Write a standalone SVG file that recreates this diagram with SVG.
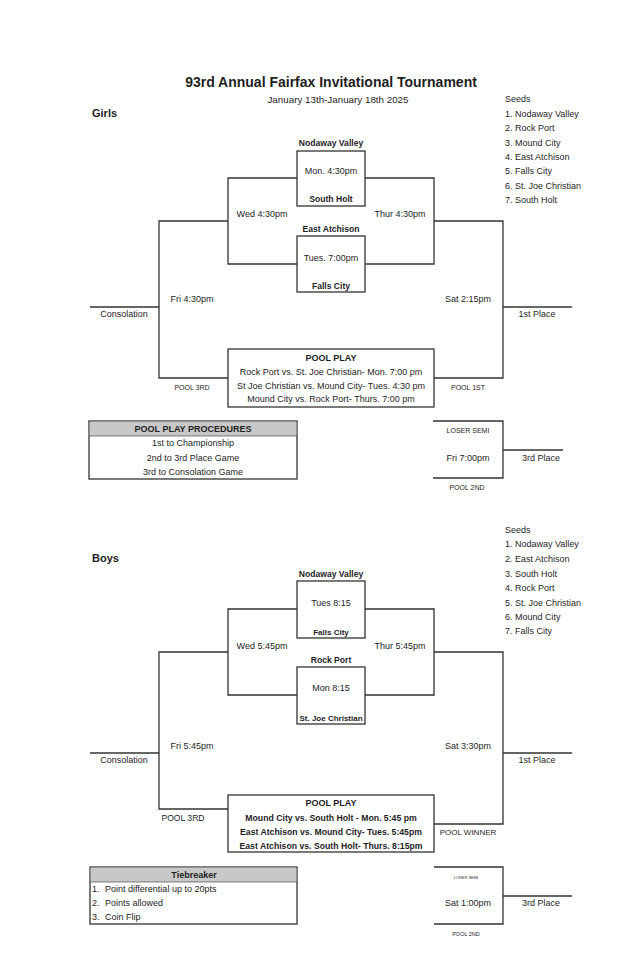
<svg xmlns="http://www.w3.org/2000/svg" width="644" height="960" viewBox="0 0 644 960">
<style>
text{font-family:"Liberation Sans",Arial,sans-serif;fill:#1e1e1e;dominant-baseline:central;font-size:9px}
.c{text-anchor:middle}
.b{font-weight:bold}
.title{font-size:14px;font-weight:bold}
.sec{font-size:11px;font-weight:bold}
.team{font-size:8.6px;font-weight:bold}
.sm{font-size:7px}
.ln{fill:none;stroke:#333;stroke-width:1.3}
.box{fill:#fff;stroke:#333;stroke-width:1.3}
.hdr{fill:#c8c8c8;stroke:none}
</style>
<rect width="644" height="960" fill="#fff"/>

<g id="header">
<text class="c title" x="331" y="82">93rd Annual Fairfax Invitational Tournament</text>
<text class="c" x="338" y="99" style="font-size:9.8px">January 13th-January 18th 2025</text>
</g>

<!-- GIRLS -->
<g id="girls-label"><text class="sec" x="92" y="113">Girls</text></g>
<g id="girls-seeds">
<text x="505" y="99">Seeds</text>
<text x="505" y="114">1. Nodaway Valley</text>
<text x="505" y="128">2. Rock Port</text>
<text x="505" y="143">3. Mound City</text>
<text x="505" y="157">4. East Atchison</text>
<text x="505" y="171">5. Falls City</text>
<text x="505" y="186">6. St. Joe Christian</text>
<text x="505" y="200">7. South Holt</text>
</g>

<g id="girls-connectors">
<path class="ln" d="M297,178 H228 V264 H297"/>
<path class="ln" d="M365,178 H434 V264 H365"/>
<path class="ln" d="M228,221 H159 V378 H228"/>
<path class="ln" d="M434,221 H503 V378 H434"/>
<path class="ln" d="M90,307 H159"/>
<path class="ln" d="M503,307 H572"/>
<path class="ln" d="M433,421 H503 V478 H433"/>
<path class="ln" d="M503,450 H563"/>
</g>

<g id="girls-game1">
<rect class="box" x="297" y="151" width="68" height="55"/>
<text class="c team" x="331" y="143">Nodaway Valley</text>
<text class="c" x="331" y="171">Mon. 4:30pm</text>
<text class="c team" x="331" y="199">South Holt</text>
</g>
<g id="girls-game2">
<rect class="box" x="297" y="236" width="68" height="56"/>
<text class="c team" x="331" y="229">East Atchison</text>
<text class="c" x="331" y="258">Tues. 7:00pm</text>
<text class="c team" x="331" y="286">Falls City</text>
</g>
<g id="girls-wed"><text class="c" x="262" y="214">Wed 4:30pm</text></g>
<g id="girls-thur"><text class="c" x="400" y="214">Thur 4:30pm</text></g>
<g id="girls-fri"><text class="c" x="192" y="299">Fri 4:30pm</text></g>
<g id="girls-sat"><text class="c" x="468" y="299">Sat 2:15pm</text></g>
<g id="girls-consolation"><text class="c" x="124" y="314">Consolation</text></g>
<g id="girls-1st"><text class="c" x="537" y="314">1st Place</text></g>
<g id="girls-pool3"><text class="c sm" x="192" y="387">POOL 3RD</text></g>
<g id="girls-pool1"><text class="c sm" x="468" y="387">POOL 1ST</text></g>
<g id="girls-pool">
<rect class="box" x="228" y="349" width="206" height="58"/>
<text class="c b" x="331" y="358">POOL PLAY</text>
<text class="c" x="331" y="372">Rock Port vs. St. Joe Christian- Mon. 7:00 pm</text>
<text class="c" x="331" y="386">St Joe Christian vs. Mound City- Tues. 4:30 pm</text>
<text class="c" x="331" y="399">Mound City vs. Rock Port- Thurs. 7:00 pm</text>
</g>
<g id="girls-procedures">
<rect class="box" x="89" y="421" width="208" height="58"/>
<rect class="hdr" x="89.7" y="421.7" width="206.6" height="14.3"/>
<line class="ln" x1="89" y1="436" x2="297" y2="436" style="stroke-width:0.6"/>
<text class="c b" x="193" y="429">POOL PLAY PROCEDURES</text>
<text class="c" x="193" y="443">1st to Championship</text>
<text class="c" x="193" y="458">2nd to 3rd Place Game</text>
<text class="c" x="193" y="472">3rd to Consolation Game</text>
</g>
<g id="girls-third">
<text class="c sm" x="468" y="430">LOSER SEMI</text>
<text class="c" x="468" y="458">Fri 7:00pm</text>
<text class="c" x="541" y="458">3rd Place</text>
<text class="c sm" x="467" y="487">POOL 2ND</text>
</g>

<!-- BOYS -->
<g id="boys-label"><text class="sec" x="92" y="558">Boys</text></g>
<g id="boys-seeds">
<text x="505" y="530">Seeds</text>
<text x="505" y="544">1. Nodaway Valley</text>
<text x="505" y="559">2. East Atchison</text>
<text x="505" y="574">3. South Holt</text>
<text x="505" y="588">4. Rock Port</text>
<text x="505" y="603">5. St. Joe Christian</text>
<text x="505" y="617">6. Mound City</text>
<text x="505" y="631">7. Falls City</text>
</g>

<g id="boys-connectors">
<path class="ln" d="M297,609 H228 V695 H297"/>
<path class="ln" d="M365,609 H434 V695 H365"/>
<path class="ln" d="M228,652 H159 V809 H228"/>
<path class="ln" d="M434,652 H503 V824 H434"/>
<path class="ln" d="M90,753 H159"/>
<path class="ln" d="M503,753 H572"/>
<path class="ln" d="M434,867 H503 V924 H434"/>
<path class="ln" d="M503,896 H572"/>
</g>

<g id="boys-game1">
<rect class="box" x="297" y="581" width="68" height="57"/>
<text class="c team" x="331" y="574">Nodaway Valley</text>
<text class="c" x="331" y="603">Tues 8:15</text>
<text class="c team" x="331" y="632" style="font-size:8px">Falls City</text>
</g>
<g id="boys-game2">
<rect class="box" x="297" y="667" width="68" height="57"/>
<text class="c team" x="331" y="660">Rock Port</text>
<text class="c" x="331" y="688">Mon 8:15</text>
<text class="c team" x="331" y="718" style="font-size:8px">St. Joe Christian</text>
</g>
<g id="boys-wed"><text class="c" x="262" y="646">Wed 5:45pm</text></g>
<g id="boys-thur"><text class="c" x="400" y="646">Thur 5:45pm</text></g>
<g id="boys-fri"><text class="c" x="192" y="746">Fri 5:45pm</text></g>
<g id="boys-sat"><text class="c" x="468" y="746">Sat 3:30pm</text></g>
<g id="boys-consolation"><text class="c" x="124" y="760">Consolation</text></g>
<g id="boys-1st"><text class="c" x="537" y="760">1st Place</text></g>
<g id="boys-pool3"><text class="c" x="183" y="818" style="font-size:8.6px">POOL 3RD</text></g>
<g id="boys-poolwinner"><text class="c" x="468" y="832" style="font-size:8px">POOL WINNER</text></g>
<g id="boys-pool">
<rect class="box" x="228" y="795" width="206" height="57"/>
<text class="c b" x="331" y="803">POOL PLAY</text>
<text class="c b" x="331" y="818" style="font-size:8.7px">Mound City vs. South Holt - Mon. 5:45 pm</text>
<text class="c b" x="331" y="832" style="font-size:8.7px">East Atchison vs. Mound City- Tues. 5:45pm</text>
<text class="c b" x="331" y="846" style="font-size:8.7px">East Atchison vs. South Holt- Thurs. 8:15pm</text>
</g>
<g id="boys-tiebreaker">
<rect class="box" x="90" y="867" width="207" height="57"/>
<rect class="hdr" x="90.7" y="867.7" width="205.6" height="14.3"/>
<line class="ln" x1="90" y1="882" x2="297" y2="882" style="stroke-width:0.6"/>
<text class="c b" x="194" y="875">Tiebreaker</text>
<text y="889"><tspan x="92">1.</tspan><tspan x="105">Point differential up to 20pts</tspan></text>
<text y="903"><tspan x="92">2.</tspan><tspan x="105">Points allowed</tspan></text>
<text y="917"><tspan x="92">3.</tspan><tspan x="105">Coin Flip</tspan></text>
</g>
<g id="boys-third">
<text class="c" x="466" y="877" style="font-size:4px">LOSER SEMI</text>
<text class="c" x="468" y="903">Sat 1:00pm</text>
<text class="c" x="541" y="903">3rd Place</text>
<text class="c" x="466" y="934" style="font-size:5.5px">POOL 2ND</text>
</g>
</svg>
